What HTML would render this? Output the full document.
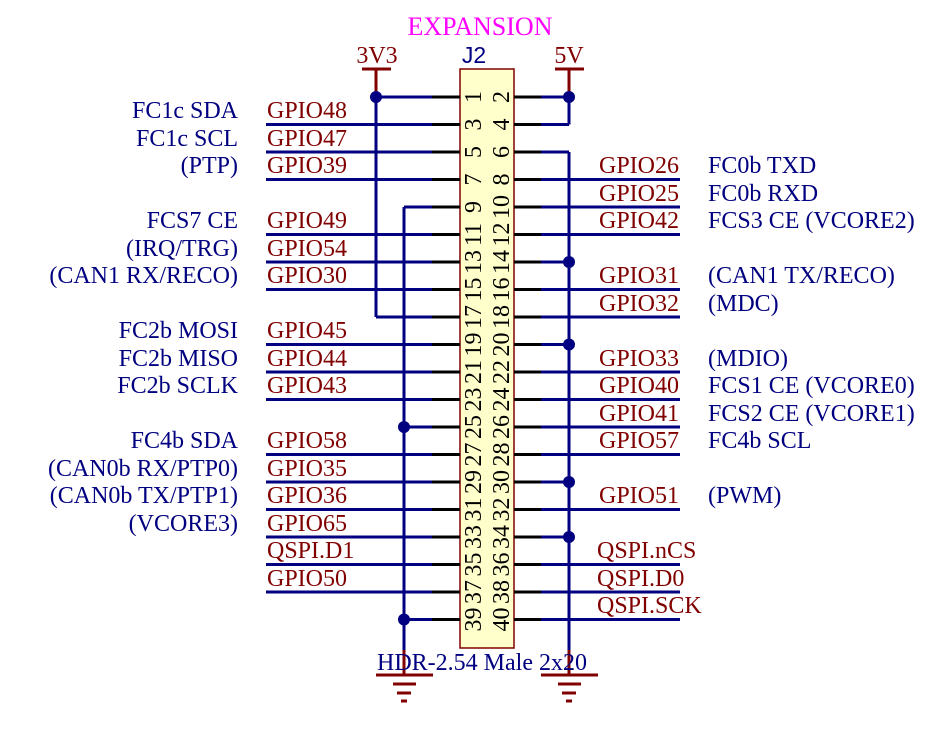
<!DOCTYPE html>
<html><head><meta charset="utf-8"><style>
html,body{margin:0;padding:0;background:#fff;}
svg{display:block;}
text{font-family:"Liberation Serif",serif;font-size:24px;}
.b{fill:#000080;}.r{fill:#800000;}
.bl{stroke:#000080;stroke-width:3;fill:none;}
.rl{stroke:#800000;stroke-width:3;fill:none;}
.kl{stroke:#000;stroke-width:3;}
.pn{font-size:17px;fill:#000;}
</style></head><body>
<svg width="949" height="748" viewBox="0 0 949 748" xmlns="http://www.w3.org/2000/svg">
<text x="480" y="35" text-anchor="middle" style="fill:#ff00ff;font-size:26px">EXPANSION</text>
<text x="474" y="63" text-anchor="middle" class="b" style="font-family:'Liberation Sans',sans-serif;font-size:23px">J2</text>
<text x="377" y="63" text-anchor="middle" class="r">3V3</text>
<text x="569" y="63" text-anchor="middle" class="r">5V</text>
<path class="rl" d="M362 69H391M376 69V97M555 69H584M569 69V97"/>
<rect x="460" y="69" width="54" height="579" fill="#ffffcc" stroke="#800000" stroke-width="1.5"/>
<path class="bl" d="M376 97V317M404 207V650M569 97V124.5M569 152V650"/>
<path class="rl" d="M404 650V675M569 650V675"/>
<path class="rl" d="M376 675H433M393 684H416M397 693H411M401 701H407"/>
<path class="rl" d="M541 675H598M558 684H581M562 693H576M566 701H572"/>
<path class="bl" d="M376 97H432M266 124.5H432M266 152H432M266 179.5H432M404 207H432M266 234.5H432M266 262H432M266 289.5H432M376 317H432M266 344.5H432M266 372H432M266 399.5H432M404 427H432M266 454.5H432M266 482H432M266 509.5H432M266 537H432M266 564.5H432M266 592H432M404 619.5H432"/>
<path class="bl" d="M541 97H569M541 124.5H569M541 152H569M541 179.5H680M541 207H680M541 234.5H680M541 262H569M541 289.5H680M541 317H680M541 344.5H569M541 372H680M541 399.5H680M541 427H680M541 454.5H680M541 482H569M541 509.5H680M541 537H569M541 564.5H680M541 592H680M541 619.5H680"/>
<path class="kl" d="M432 97H460M432 124.5H460M432 152H460M432 179.5H460M432 207H460M432 234.5H460M432 262H460M432 289.5H460M432 317H460M432 344.5H460M432 372H460M432 399.5H460M432 427H460M432 454.5H460M432 482H460M432 509.5H460M432 537H460M432 564.5H460M432 592H460M432 619.5H460
M514 97H541M514 124.5H541M514 152H541M514 179.5H541M514 207H541M514 234.5H541M514 262H541M514 289.5H541M514 317H541M514 344.5H541M514 372H541M514 399.5H541M514 427H541M514 454.5H541M514 482H541M514 509.5H541M514 537H541M514 564.5H541M514 592H541M514 619.5H541"/>
<g fill="#000080">
<circle cx="376" cy="97" r="6"/><circle cx="569" cy="97" r="6"/>
<circle cx="404" cy="427" r="6"/><circle cx="404" cy="619.5" r="6"/>
<circle cx="569" cy="262" r="6"/><circle cx="569" cy="344.5" r="6"/>
<circle cx="569" cy="482" r="6"/><circle cx="569" cy="537" r="6"/>
</g>
<g class="pn" text-anchor="middle">
<text transform="translate(481,97) rotate(-90)">1</text><text transform="translate(509,97) rotate(-90)">2</text>
<text transform="translate(481,124.5) rotate(-90)">3</text><text transform="translate(509,124.5) rotate(-90)">4</text>
<text transform="translate(481,152) rotate(-90)">5</text><text transform="translate(509,152) rotate(-90)">6</text>
<text transform="translate(481,179.5) rotate(-90)">7</text><text transform="translate(509,179.5) rotate(-90)">8</text>
<text transform="translate(481,207) rotate(-90)">9</text><text transform="translate(509,207) rotate(-90)">10</text>
<text transform="translate(481,234.5) rotate(-90)">11</text><text transform="translate(509,234.5) rotate(-90)">12</text>
<text transform="translate(481,262) rotate(-90)">13</text><text transform="translate(509,262) rotate(-90)">14</text>
<text transform="translate(481,289.5) rotate(-90)">15</text><text transform="translate(509,289.5) rotate(-90)">16</text>
<text transform="translate(481,317) rotate(-90)">17</text><text transform="translate(509,317) rotate(-90)">18</text>
<text transform="translate(481,344.5) rotate(-90)">19</text><text transform="translate(509,344.5) rotate(-90)">20</text>
<text transform="translate(481,372) rotate(-90)">21</text><text transform="translate(509,372) rotate(-90)">22</text>
<text transform="translate(481,399.5) rotate(-90)">23</text><text transform="translate(509,399.5) rotate(-90)">24</text>
<text transform="translate(481,427) rotate(-90)">25</text><text transform="translate(509,427) rotate(-90)">26</text>
<text transform="translate(481,454.5) rotate(-90)">27</text><text transform="translate(509,454.5) rotate(-90)">28</text>
<text transform="translate(481,482) rotate(-90)">29</text><text transform="translate(509,482) rotate(-90)">30</text>
<text transform="translate(481,509.5) rotate(-90)">31</text><text transform="translate(509,509.5) rotate(-90)">32</text>
<text transform="translate(481,537) rotate(-90)">33</text><text transform="translate(509,537) rotate(-90)">34</text>
<text transform="translate(481,564.5) rotate(-90)">35</text><text transform="translate(509,564.5) rotate(-90)">36</text>
<text transform="translate(481,592) rotate(-90)">37</text><text transform="translate(509,592) rotate(-90)">38</text>
<text transform="translate(481,619.5) rotate(-90)">39</text><text transform="translate(509,619.5) rotate(-90)">40</text>
</g>
<g class="r">
<text x="267" y="118">GPIO48</text><text x="267" y="146">GPIO47</text><text x="267" y="173">GPIO39</text>
<text x="267" y="228">GPIO49</text><text x="267" y="256">GPIO54</text><text x="267" y="283">GPIO30</text>
<text x="267" y="338">GPIO45</text><text x="267" y="366">GPIO44</text><text x="267" y="393">GPIO43</text>
<text x="267" y="448">GPIO58</text><text x="267" y="476">GPIO35</text><text x="267" y="503">GPIO36</text>
<text x="267" y="531">GPIO65</text><text x="267" y="558">QSPI.D1</text><text x="267" y="586">GPIO50</text>
</g>
<g class="b" text-anchor="end">
<text x="238" y="118">FC1c SDA</text><text x="238" y="146">FC1c SCL</text><text x="238" y="173">(PTP)</text>
<text x="238" y="228">FCS7 CE</text><text x="238" y="256">(IRQ/TRG)</text><text x="238" y="283">(CAN1 RX/RECO)</text>
<text x="238" y="338">FC2b MOSI</text><text x="238" y="366">FC2b MISO</text><text x="238" y="393">FC2b SCLK</text>
<text x="238" y="448">FC4b SDA</text><text x="238" y="476">(CAN0b RX/PTP0)</text><text x="238" y="503">(CAN0b TX/PTP1)</text>
<text x="238" y="531">(VCORE3)</text>
</g>
<g class="r" text-anchor="end">
<text x="679" y="173">GPIO26</text><text x="679" y="201">GPIO25</text><text x="679" y="228">GPIO42</text>
<text x="679" y="283">GPIO31</text><text x="679" y="311">GPIO32</text>
<text x="679" y="366">GPIO33</text><text x="679" y="393">GPIO40</text><text x="679" y="421">GPIO41</text>
<text x="679" y="448">GPIO57</text><text x="679" y="503">GPIO51</text>
</g>
<g class="r">
<text x="597" y="558">QSPI.nCS</text><text x="597" y="586">QSPI.D0</text><text x="597" y="613">QSPI.SCK</text>
</g>
<g class="b">
<text x="708" y="173">FC0b TXD</text><text x="708" y="201">FC0b RXD</text><text x="708" y="228">FCS3 CE (VCORE2)</text>
<text x="708" y="283">(CAN1 TX/RECO)</text><text x="708" y="311">(MDC)</text>
<text x="708" y="366">(MDIO)</text><text x="708" y="393">FCS1 CE (VCORE0)</text><text x="708" y="421">FCS2 CE (VCORE1)</text>
<text x="708" y="448">FC4b SCL</text><text x="708" y="503">(PWM)</text>
</g>
<text x="377" y="670" class="b">HDR-2.54 Male 2x20</text>
</svg>
</body></html>
